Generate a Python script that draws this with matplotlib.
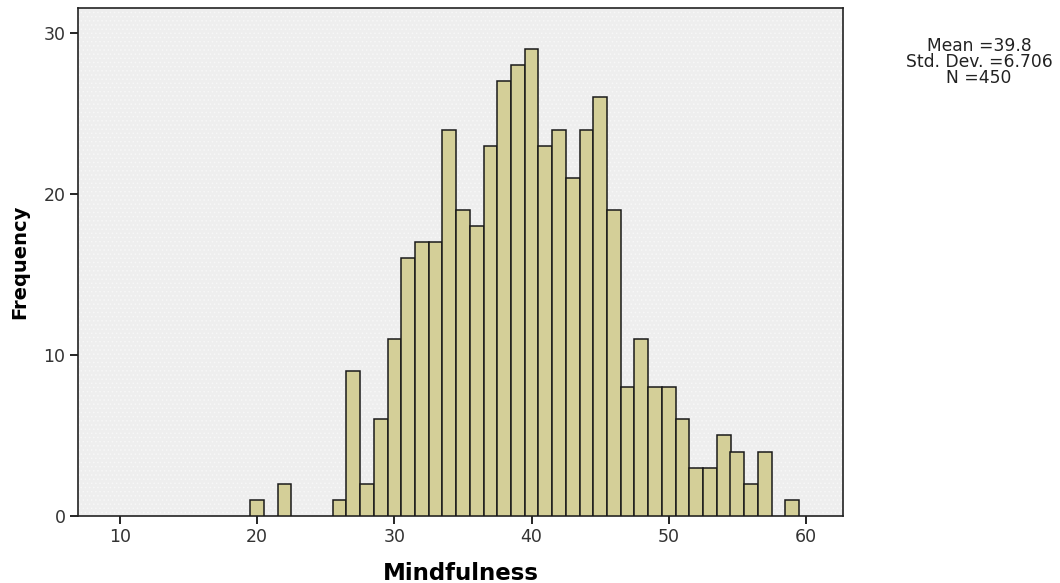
import matplotlib.pyplot as plt
from matplotlib.patches import Rectangle
import numpy as np

plt.rcParams['font.family'] = ['DejaVu Sans']
plt.rcParams['hatch.linewidth'] = 0.6

# histogram counts (bin centre -> frequency)
scores = np.array([20, 22, 26, 27, 28, 29, 30, 31, 32, 33, 34, 35, 36, 37, 38, 39, 40,
                   41, 42, 43, 44, 45, 46, 47, 48, 49, 50, 51, 52, 53, 54, 55, 56, 57, 59])
counts = np.array([1, 2, 1, 9, 2, 6, 11, 16, 17, 17, 24, 19, 18, 23, 27, 28, 29,
                   23, 24, 21, 24, 26, 19, 8, 11, 8, 8, 6, 3, 3, 5, 4, 2, 4, 1])
xticks = [10, 20, 30, 40, 50, 60]
yticks = [0, 10, 20, 30]
stats = ['Mean =39.8', 'Std. Dev. =6.706', 'N =450']

fig = plt.figure(figsize=(10.6, 5.83), dpi=100)
ax = fig.add_axes([78/1060, 1-516/583, (843-78)/1060, (516-8)/583])
ax.set_facecolor('#eeeeee')
# faint dotted texture of the plot area
ax.add_patch(Rectangle((0, 0), 1, 1, transform=ax.transAxes, facecolor='none',
                       edgecolor='#f7f7f7', hatch='....', linewidth=0, zorder=0))

ax.bar(scores, counts, width=1.0, color='#d4cf98', edgecolor='#1a1a1a', linewidth=1.1, zorder=3)

ax.set_xlim(6.94, 62.7)
ax.set_ylim(0, 31.55)
ax.set_xticks(xticks)
ax.set_yticks(yticks)
ax.tick_params(direction='out', length=6, width=1.2, labelsize=12.5, labelcolor='#333333', pad=3)
for s in ax.spines.values():
    s.set_linewidth(1.2)
    s.set_color('#222222')

ax.set_xlabel('Mindfulness', fontsize=16.5, fontweight='bold', labelpad=11)
ax.set_ylabel('Frequency', fontsize=14, fontweight='bold', labelpad=10)

fig.text(979/1060, 1-62/583, '\n'.join(stats), ha='center', va='center',
         fontsize=12.3, linespacing=0.86, color='#222222')

fig.savefig('out.png', dpi=100)
